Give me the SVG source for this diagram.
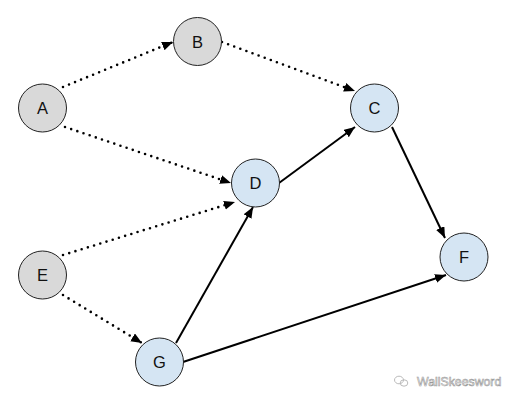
<svg xmlns="http://www.w3.org/2000/svg" width="519" height="404" viewBox="0 0 519 404">
<defs>
<style>
.n circle{stroke:#222;stroke-width:1}
.g circle{fill:#d9d9d9}
.b circle{fill:#d5e5f3}
.n text{font-family:"Liberation Sans",Arial,sans-serif;font-size:16.5px;fill:#111;text-anchor:middle;dominant-baseline:central}
.e{fill:none;stroke:#000;stroke-width:2}
.d{stroke-width:2.6;stroke-dasharray:0 6.5;stroke-linecap:round}
</style>
<marker id="ah" markerUnits="userSpaceOnUse" markerWidth="12" markerHeight="10" refX="11" refY="4.5" orient="auto">
<path d="M0,0 L11,4.5 L0,9 z" fill="#000"/>
</marker>
</defs>
<rect width="519" height="404" fill="#fff"/>
<g id="connectors">
<path class="e d" d="M63,87 L173,42" marker-end="url(#ah)"/>
<path class="e d" d="M65,127 L231,183" marker-end="url(#ah)"/>
<path class="e d" d="M222,42 L355,91" marker-end="url(#ah)"/>
<path class="e d" d="M63,255 L235,202" marker-end="url(#ah)"/>
<path class="e d" d="M63,295 L142,343" marker-end="url(#ah)"/>
<path class="e" d="M279,183 L355,127" marker-end="url(#ah)"/>
<path class="e" d="M392,127 L445,238" marker-end="url(#ah)"/>
<path class="e" d="M176,343 L253,207" marker-end="url(#ah)"/>
<path class="e" d="M183,362 L446,275" marker-end="url(#ah)"/>
</g>
<g id="A" class="n g"><circle cx="42.5" cy="108" r="24"/><text x="42.5" y="108">A</text></g>
<g id="B" class="n g"><circle cx="197.5" cy="41.5" r="24"/><text x="197.5" y="41.5">B</text></g>
<g id="C" class="n b"><circle cx="374.5" cy="108" r="24"/><text x="374.5" y="108">C</text></g>
<g id="D" class="n b"><circle cx="255.5" cy="183" r="24"/><text x="255.5" y="183">D</text></g>
<g id="E" class="n g"><circle cx="42.5" cy="275" r="24"/><text x="42.5" y="275">E</text></g>
<g id="F" class="n b"><circle cx="464" cy="257" r="24"/><text x="464" y="257">F</text></g>
<g id="G" class="n b"><circle cx="159.5" cy="362" r="24"/><text x="159.5" y="362">G</text></g>
<g id="watermark">
<ellipse cx="399" cy="380" rx="4.5" ry="3.8" fill="none" stroke="#bbb" stroke-width="1"/>
<ellipse cx="404" cy="383" rx="3.8" ry="3.2" fill="none" stroke="#bbb" stroke-width="1"/>
<text x="417" y="386" font-family="'Liberation Sans',Arial,sans-serif" font-size="12.3" fill="#fff" stroke="#999" stroke-width="0.6">WallSkeesword</text>
</g>
</svg>
